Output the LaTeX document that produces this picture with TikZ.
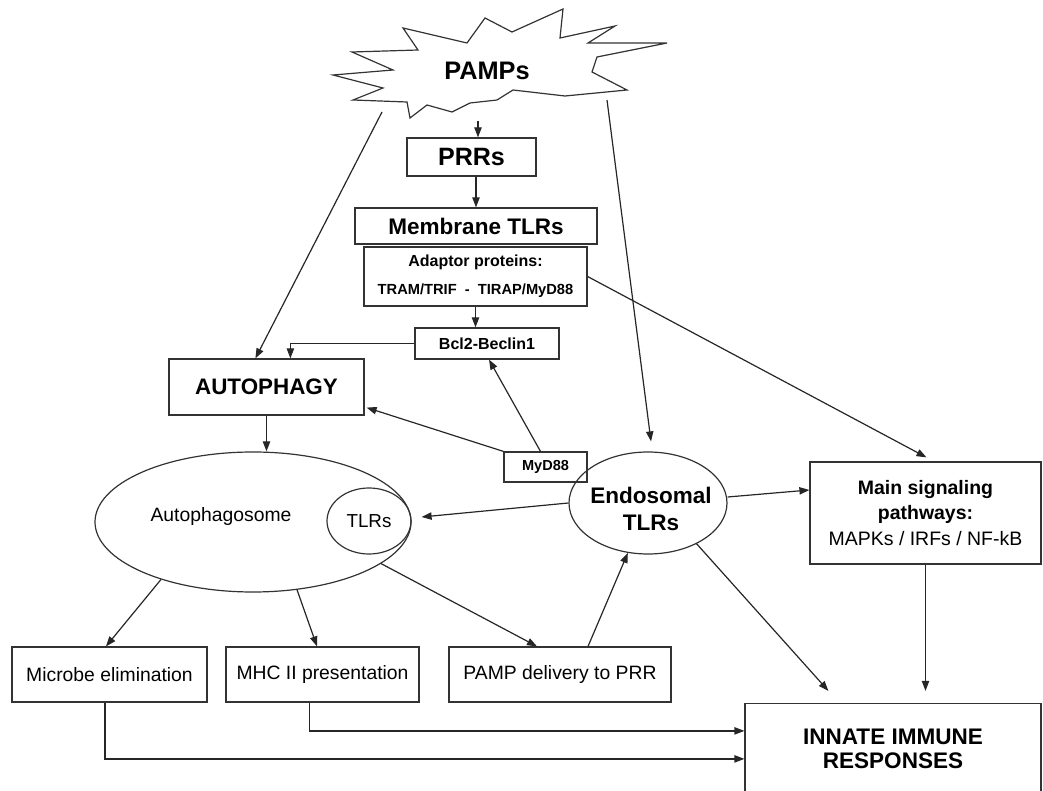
\documentclass[tikz,border=0pt]{standalone}
\usepackage{fontspec}
\setmainfont{Liberation Sans}
\usepackage{tikz}
\usetikzlibrary{arrows.meta,shapes.geometric,positioning,calc}
\tikzset{every picture/.style={line width=0.9pt}}

\begin{document}
\begin{tikzpicture}[x=0.75pt,y=-0.75pt,
    box/.style={draw=black!80, fill=white, inner sep=0pt, align=center},
    oval/.style={draw=black!80, ellipse, inner sep=0pt},
    boxsize/.style 2 args={minimum width=#1*0.75pt, minimum height=#2*0.75pt},
    arr/.style={draw=black!85, -{Triangle[length=7.5pt,width=5.5pt]}}]
    \useasboundingbox (0,0) rectangle (1043,791);

    % 绘制 PAMPs 星形
    \draw[black!80] (333,75) -- (393,70) -- (352,52) -- (418,50) -- (403,28) -- (467,43)
        -- (485,18) -- (512,32) -- (563,9) -- (560,38) -- (615,26) -- (588,43)
        -- (667,43) -- (597,57) -- (592,72) -- (627,90) -- (565,96) -- (513,90)
        -- (497,100) -- (470,103) -- (452,112) -- (427,105) -- (410,118) -- (407,102)
        -- (353,100) -- (383,88) -- cycle;
    \node[font=\fontsize{19}{22}\selectfont\bfseries] (pamps) at (487,71) {PAMPs};
    \coordinate (starS) at (478,121);
    \coordinate (starL) at (382,112);
    \coordinate (starR) at (607,100);

    % 绘制方框
    \node[box, boxsize={129}{38}, font=\fontsize{18.8}{22}\selectfont\bfseries] (prrs) at (471.5,157) {PRRs};
    \node[box, boxsize={242}{36}, font=\fontsize{16.9}{20}\selectfont\bfseries] (membrane) at (476,226) {Membrane TLRs};
    \node[box, boxsize={223}{59}, font=\fontsize{12}{15}\selectfont\bfseries] (adaptor) at (475.5,276.5)
        {Adaptor proteins:\\[6pt]{\fontsize{11}{15}\selectfont TRAM/TRIF\ \ -\ \ TIRAP/MyD88}};
    \node[box, boxsize={144}{31}, font=\fontsize{12}{15}\selectfont\bfseries] (bcl2) at (487,343.5) {Bcl2-Beclin1};
    \node[box, boxsize={195}{56}, font=\fontsize{16.8}{20}\selectfont\bfseries] (autophagy) at (266.5,387) {AUTOPHAGY};
    \node[box, boxsize={83}{30}, font=\fontsize{10.9}{13}\selectfont\bfseries] (myd88) at (545.5,467) {MyD88};
    \node[box, boxsize={231}{102}, font=\fontsize{14.6}{19}\selectfont] (main) at (925.5,513)
        {\textbf{Main signaling}\\\textbf{pathways:}\\ MAPKs / IRFs / NF-kB};
    \node[box, boxsize={296}{91}, font=\fontsize{16.9}{17.5}\selectfont\bfseries] (innate) at (893,749)
        {INNATE IMMUNE\\RESPONSES};
    \node[box, boxsize={195}{55}, font=\fontsize{14.5}{17}\selectfont] (microbe) at (109.5,674.5) {Microbe elimination};
    \node[box, boxsize={193}{55}, font=\fontsize{14.5}{17}\selectfont] (mhc) at (322.5,674.5) {MHC II presentation};
    \node[box, boxsize={222}{55}, font=\fontsize{14.5}{17}\selectfont] (pampdel) at (560,674.5) {PAMP delivery to PRR};

    % 绘制椭圆
    \node[oval, boxsize={316}{140}] (autoph) at (253,522) {};
    \node[font=\fontsize{14.5}{17}\selectfont] (autophtxt) at (221,517) {Autophagosome};
    \node[oval, boxsize={84}{66}, font=\fontsize{14.1}{17}\selectfont] (tlrs) at (369,521) {TLRs};
    \node[oval, boxsize={158}{102}] (endo) at (648,503) {};
    \node[align=center, font=\fontsize{16.9}{20}\selectfont\bfseries] (endotxt) at (651,509) {Endosomal\\TLRs};

    % 绘制箭头
    \draw[arr] (starS) -- (starS |- prrs.north);
    \draw[arr] (starL) -- ($(autophagy.north west)+(87,0)$);
    \draw[arr] (starR) -- ($(endo.north)+(3,-10)$);
    \draw[arr] (prrs.south -| membrane.north) -- (membrane.north);
    \draw[arr] (adaptor.south) -- (adaptor.south |- bcl2.north);
    \draw[arr] (bcl2.west) -| ($(autophagy.north west)+(122,0)$);
    \draw[arr] ($(myd88.north)+(-5,0)$) -- ($(bcl2.south)+(2,0)$);
    \draw[arr] (myd88.north west) -- ($(autophagy.south east)+(2,-8)$);
    \draw[arr] (autophagy.south) -- (autophagy.south |- autoph.north);
    \draw[arr] (endo.west) -- ($(tlrs.east)+(10,-4)$);
    \draw[arr] ($(endo.east)+(0,-6)$) -- ($(main.west)+(0,-23)$);
    \draw[arr] (adaptor.east) -- ($(main.north)+(1,-4)$);
    \draw[arr] (endo.-40) -- ($(innate.north west)+(84,-12)$);
    \draw[arr] (main.south) -- ($(main.south |- innate.north)+(0,-12)$);
    \draw[arr] (autoph.212) -- ($(microbe.north)+(-3.5,0)$);
    \draw[arr] (autoph.303) -- ($(mhc.north)+(-5.5,0)$);
    \draw[arr] (autoph.342) -- ($(pampdel.north)+(-23,0)$);
    \draw[arr] ($(pampdel.north)+(28,0)$) -- (endo.248);
    \draw[arr] ($(mhc.south)+(-13,0)$) |- ($(innate.north west)+(0,28)$);
    \draw[arr] ($(microbe.south)+(-4.5,0)$) |- ($(innate.north west)+(0,56)$);
\end{tikzpicture}
\end{document}
